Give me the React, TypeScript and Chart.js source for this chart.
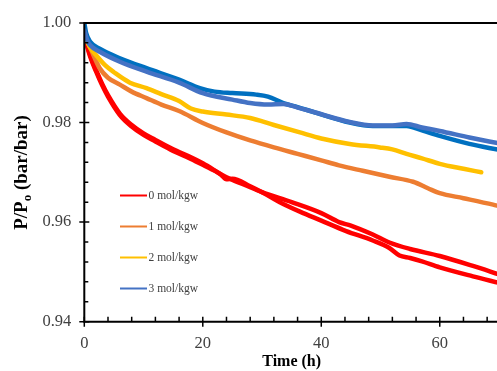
import React, { useEffect, useRef } from 'react';
import { Chart, registerables } from 'chart.js';

Chart.register(...registerables);

// ---- axis / legend text ----
const xTickValues = [0, 20, 40, 60];
const yTickValues = [0.94, 0.96, 0.98, 1.0];
const xMin = 0;
const xMax = 70;
const yMin = 0.94;
const yMax = 1.0;
const xMinorStep = 4;
const yMinorStep = 0.004;
const xTitle = 'Time (h)';
const yTitleMain = 'P/P';
const yTitleSub = 'o';
const yTitleRest = ' (bar/bar)';
const legendLabels = ['0 mol/kgw', '1 mol/kgw', '2 mol/kgw', '3 mol/kgw'];
const legendColors = ['#FF0000', '#ED7D31', '#FFC000', '#4472C4'];

// ---- series (time in h, P/Po) ----
const red1Time = [0, 0.5, 1, 2, 3, 4, 6, 8, 10, 12, 15, 18, 20, 24, 27, 30, 35, 40, 43, 45, 48.7, 51.5, 55, 60, 65.6, 70];
const red1Vals = [0.9985, 0.9955, 0.9935, 0.9905, 0.9878, 0.9855, 0.9818, 0.9795, 0.9778, 0.9765, 0.9746, 0.9730, 0.9718, 0.9690, 0.9675, 0.9660, 0.9640, 0.9618, 0.9600, 0.9593, 0.9575, 0.9559, 0.9546, 0.9532, 0.9512, 0.9495];

const red2Time = [0, 0.5, 1, 2, 3, 4, 6, 8, 10, 12, 15, 18, 20, 23, 24, 25, 28, 30, 33, 36.4, 40, 44.2, 48.7, 51.5, 53.2, 55, 57, 60, 65.6, 70];
const red2Vals = [0.9982, 0.9952, 0.9932, 0.9902, 0.9875, 0.9852, 0.9815, 0.9792, 0.9775, 0.9762, 0.9743, 0.9727, 0.9715, 0.9696, 0.9686, 0.9687, 0.9672, 0.9660, 0.9640, 0.9621, 0.9603, 0.9582, 0.9563, 0.9548, 0.9533, 0.9528, 0.9521, 0.9509, 0.9491, 0.9478];

const orangeTime = [0, 0.5, 1, 2.6, 4, 6, 8, 10.5, 13, 16, 20, 24, 28, 32, 36, 40, 43, 47, 51.5, 55.5, 58, 60, 64, 69, 70];
const orangeVals = [0.9975, 0.9962, 0.9950, 0.9909, 0.9890, 0.9876, 0.9862, 0.9849, 0.9836, 0.9823, 0.9799, 0.9780, 0.9764, 0.9750, 0.9737, 0.9724, 0.9714, 0.9703, 0.9691, 0.9681, 0.9668, 0.9658, 0.9648, 0.9635, 0.9632];

const yellowTime = [0, 0.5, 1, 2, 3.5, 5, 7.7, 10.5, 13, 16, 18, 20, 24, 28, 32, 36.4, 40, 44.8, 49.9, 52, 54.4, 57, 60, 64, 67];
const yellowVals = [0.9975, 0.9962, 0.9950, 0.9935, 0.9915, 0.9901, 0.9880, 0.9869, 0.9857, 0.9843, 0.9828, 0.9822, 0.9816, 0.9809, 0.9795, 0.9780, 0.9768, 0.9757, 0.9750, 0.9746, 0.9737, 0.9728, 0.9717, 0.9707, 0.9700];

const blue1Time = [0, 0.3, 1, 2.6, 6, 10.5, 16, 19.5, 22, 25, 29, 31, 33.6, 36, 39, 44.8, 48.7, 51, 54.4, 57, 60, 65, 70];
const blue1Vals = [1.0, 0.998, 0.9962, 0.9948, 0.9929, 0.9909, 0.9886, 0.9869, 0.9862, 0.9859, 0.9856, 0.9852, 0.9839, 0.9831, 0.9820, 0.9800, 0.9793, 0.9793, 0.9793, 0.9784, 0.9773, 0.9757, 0.9745];

const blue2Time = [0, 0.5, 1, 2.6, 6, 10.5, 16, 20, 25, 28, 31, 33.6, 36, 39, 44.8, 48.7, 52, 54.4, 57, 60, 65, 70];
const blue2Vals = [0.9985, 0.9965, 0.9955, 0.9942, 0.9922, 0.9902, 0.9880, 0.9859, 0.9846, 0.9839, 0.9836, 0.9837, 0.9830, 0.9820, 0.9801, 0.9794, 0.9794, 0.9797, 0.9790, 0.9783, 0.9770, 0.9758];

const toPoints = (t: number[], v: number[]) => t.map((x, i) => ({ x, y: v[i] }));

const seriesList = [
  { t: blue2Time, v: blue2Vals, color: '#4472C4' },
  { t: blue1Time, v: blue1Vals, color: '#0070C0' },
  { t: yellowTime, v: yellowVals, color: '#FFC000' },
  { t: orangeTime, v: orangeVals, color: '#ED7D31' },
  { t: red2Time, v: red2Vals, color: '#FF0000' },
  { t: red1Time, v: red1Vals, color: '#FF0000' },
];

const serif = '"Liberation Serif", "Times New Roman", serif';

const decoPlugin = {
  id: 'deco',
  afterDraw(chart: any) {
    const { ctx, chartArea: a, scales } = chart;
    const xs = scales.x;
    const ys = scales.y;
    ctx.save();
    ctx.strokeStyle = '#000';
    ctx.lineWidth = 2;
    ctx.beginPath();
    ctx.moveTo(a.left, a.top);
    ctx.lineTo(a.left, a.bottom);
    ctx.moveTo(a.left - 1, a.bottom);
    ctx.lineTo(a.right, a.bottom);
    ctx.moveTo(a.left - 1, a.top);
    ctx.lineTo(a.right, a.top);
    ctx.stroke();
    ctx.lineWidth = 1.5;
    ctx.beginPath();
    const nY = Math.round((yMax - yMin) / yMinorStep);
    for (let i = 0; i <= nY; i++) {
      const v = yMin + i * yMinorStep;
      const py = ys.getPixelForValue(v);
      if (i % 5 === 0) {
        ctx.moveTo(a.left - 5, py);
        ctx.lineTo(a.left + 5, py);
      } else {
        ctx.moveTo(a.left, py);
        ctx.lineTo(a.left + 4, py);
      }
    }
    const nX = Math.floor((xMax - xMin) / xMinorStep);
    for (let i = 0; i <= nX; i++) {
      const v = xMin + i * xMinorStep;
      const px = xs.getPixelForValue(v);
      if (v % 20 === 0) {
        ctx.moveTo(px, a.bottom - 5);
        ctx.lineTo(px, a.bottom + 5);
      } else {
        ctx.moveTo(px, a.bottom - 5);
        ctx.lineTo(px, a.bottom);
      }
    }
    ctx.stroke();

    // y title with subscript
    const big = `bold 19px ${serif}`;
    const small = `bold 13px ${serif}`;
    ctx.font = big;
    const w1 = ctx.measureText(yTitleMain).width;
    const w3 = ctx.measureText(yTitleRest).width;
    ctx.font = small;
    const w2 = ctx.measureText(yTitleSub).width;
    const total = w1 + w2 + w3;
    const cy = 172.5;
    ctx.translate(27, cy);
    ctx.rotate(-Math.PI / 2);
    ctx.fillStyle = '#000';
    ctx.textBaseline = 'alphabetic';
    ctx.textAlign = 'left';
    let x0 = -total / 2;
    ctx.font = big;
    ctx.fillText(yTitleMain, x0, 0);
    x0 += w1;
    ctx.font = small;
    ctx.fillText(yTitleSub, x0, 4);
    x0 += w2;
    ctx.font = big;
    ctx.fillText(yTitleRest, x0, 0);
    ctx.restore();

    // legend
    ctx.save();
    ctx.font = `11.5px ${serif}`;
    ctx.textBaseline = 'middle';
    ctx.textAlign = 'left';
    legendLabels.forEach((lab, i) => {
      const ly = 195.5 + i * 31;
      ctx.strokeStyle = legendColors[i];
      ctx.lineWidth = 2;
      ctx.beginPath();
      ctx.moveTo(120, ly);
      ctx.lineTo(147, ly);
      ctx.stroke();
      ctx.fillStyle = '#404040';
      ctx.fillText(lab, 148.5, ly);
    });
    ctx.restore();
  },
};

export default function App() {
  const ref = useRef<HTMLCanvasElement | null>(null);
  useEffect(() => {
    if (!ref.current) return;
    const chart = new Chart(ref.current, {
      type: 'line',
      data: {
        datasets: seriesList.map((s) => ({
          data: toPoints(s.t, s.v),
          borderColor: s.color,
          backgroundColor: s.color,
          borderWidth: 4.5,
          pointRadius: 0,
          cubicInterpolationMode: 'monotone' as const,
          fill: false,
          borderCapStyle: 'round' as const,
          borderJoinStyle: 'round' as const,
        })),
      },
      options: {
        responsive: false,
        animation: false,
        devicePixelRatio: 1,
        layout: { padding: { top: 19, left: 0, right: 0, bottom: 0 } },
        plugins: { legend: { display: false }, tooltip: { enabled: false } },
        scales: {
          x: {
            type: 'linear',
            min: xMin,
            max: xMax,
            afterBuildTicks: (s: any) => {
              s.ticks = xTickValues.map((value) => ({ value }));
            },
            afterFit: (s: any) => {
              s.height = 49.3;
            },
            ticks: {
              color: '#404040',
              font: { family: serif, size: 16.5 },
              padding: 12,
              maxRotation: 0,
              autoSkip: false,
              callback: (v: any) => String(v),
            },
            grid: { display: false, drawTicks: false },
            border: { display: false },
            title: {
              display: true,
              text: xTitle,
              color: '#000',
              font: { family: serif, size: 16, weight: 'bold' },
              padding: { top: 0, bottom: 0 },
            },
          },
          y: {
            type: 'linear',
            min: yMin,
            max: yMax,
            afterBuildTicks: (s: any) => {
              s.ticks = yTickValues.map((value) => ({ value }));
            },
            afterFit: (s: any) => {
              s.width = 84.3;
            },
            ticks: {
              color: '#404040',
              font: { family: serif, size: 16.5 },
              padding: 13,
              autoSkip: false,
              callback: (v: any) => Number(v).toFixed(2),
            },
            grid: { display: false, drawTicks: false },
            border: { display: false },
          },
        },
      },
      plugins: [decoPlugin],
    } as any);
    return () => chart.destroy();
  }, []);
  return (
    <div
      style={{
        position: 'fixed',
        left: 0,
        top: 0,
        width: 497,
        height: 371,
        overflow: 'hidden',
        background: '#fff',
      }}
    >
      <canvas ref={ref} width={499} height={371} style={{ display: 'block' }} />
    </div>
  );
}
